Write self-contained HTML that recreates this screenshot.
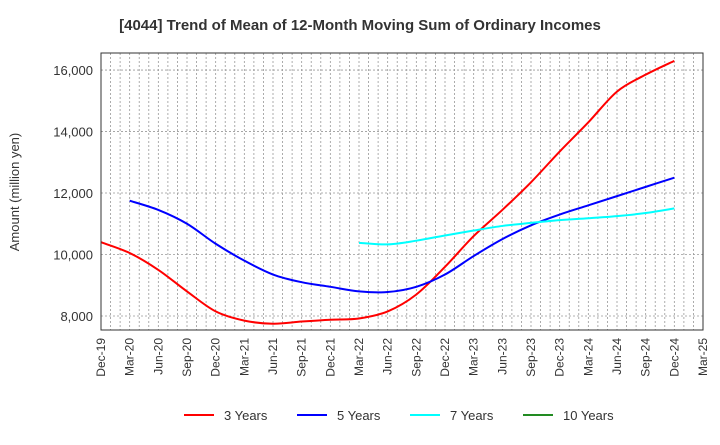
<!DOCTYPE html>
<html><head><meta charset="utf-8"><style>
body{margin:0;background:#fff;font-family:"Liberation Sans",sans-serif;}
svg text{font-family:"Liberation Sans",sans-serif;}
</style></head><body>
<svg id="chart" width="720" height="440" viewBox="0 0 720 440">
<text x="360" y="30" text-anchor="middle" font-size="15" font-weight="bold" fill="#333">[4044]  Trend of Mean of 12-Month Moving Sum of Ordinary Incomes</text>
<g id="grid"></g>
<g id="series"></g>
<rect x="101" y="53" width="602" height="277" fill="none" stroke="#333" stroke-width="1"/>
<g id="axes"></g>
<text transform="translate(19,192) rotate(-90)" text-anchor="middle" font-size="13" fill="#333">Amount (million yen)</text>
<g id="legend"></g>
</svg>
<script>
const xLabels=["Dec-19","Mar-20","Jun-20","Sep-20","Dec-20","Mar-21","Jun-21","Sep-21","Dec-21","Mar-22","Jun-22","Sep-22","Dec-22","Mar-23","Jun-23","Sep-23","Dec-23","Mar-24","Jun-24","Sep-24","Dec-24","Mar-25"];
const yTicks=[8000,10000,12000,14000,16000];
const s3=[10400,10050,9500,8800,8150,7850,7750,7820,7880,7920,8150,8700,9600,10600,11450,12350,13350,14300,15300,15850,16300];
const s5=[null,11750,11450,11000,10350,9800,9350,9100,8950,8800,8780,8950,9350,9950,10500,10950,11300,11600,11900,12200,12500];
const s7=[null,null,null,null,null,null,null,null,null,10380,10330,10450,10620,10780,10930,11030,11120,11180,11250,11350,11500];
const s10=[];
const NS="http://www.w3.org/2000/svg";
const L=101,R=703,T=53,B=330,YMIN=7545,YMAX=16555;
const xq=i=>L+i*(R-L)/21;
const y=v=>B-(v-YMIN)/(YMAX-YMIN)*(B-T);
function mk(tag,attrs,parent){const e=document.createElementNS(NS,tag);for(const k in attrs)e.setAttribute(k,attrs[k]);parent.appendChild(e);return e;}
const grid=document.getElementById('grid'),axes=document.getElementById('axes'),ser=document.getElementById('series'),leg=document.getElementById('legend');
for(let m=1;m<63;m++){const x=L+m*(R-L)/63;const g=mk('line',{x1:x,x2:x,y1:T,y2:B,stroke:'#999','stroke-dasharray':'2,2','stroke-width':0.8},grid);

}
yTicks.forEach(v=>{const g=mk('line',{x1:L,x2:R,y1:y(v),y2:y(v),stroke:'#999','stroke-dasharray':'2,2','stroke-width':0.8},grid);


const t=mk('text',{x:L-8,y:y(v)+5,'text-anchor':'end','font-size':13,fill:'#333'},axes);t.textContent=v.toLocaleString('en-US');

});
xLabels.forEach((lab,i)=>{const x=xq(i);const t=mk('text',{transform:`translate(${x+4},${B+8}) rotate(-90)`,'text-anchor':'end','font-size':12,fill:'#333'},axes);t.textContent=lab;

});
function path(arr){const pts=[];arr.forEach((v,i)=>{if(v!=null)pts.push([xq(i),y(v)]);});if(pts.length<2)return'';
let d=`M${pts[0][0]},${pts[0][1]}`;for(let i=0;i<pts.length-1;i++){const p0=pts[i-1]||pts[i],p1=pts[i],p2=pts[i+1],p3=pts[i+2]||p2;
d+=` C${p1[0]+(p2[0]-p0[0])/6},${p1[1]+(p2[1]-p0[1])/6} ${p2[0]-(p3[0]-p1[0])/6},${p2[1]-(p3[1]-p1[1])/6} ${p2[0]},${p2[1]}`;}return d;}
const defs=[[s3,'#ff0000','3 Years','series-3-years'],[s5,'#0000ff','5 Years','series-5-years'],[s7,'#00ffff','7 Years','series-7-years'],[s10,'#228b22','10 Years','series-10-years']];
defs.forEach(([arr,c,lab,n],k)=>{const d=path(arr);if(d){const p=mk('path',{d:d,fill:'none',stroke:c,'stroke-width':2},ser);

}
const lx=184+k*113;const ln=mk('line',{x1:lx,x2:lx+30,y1:415,y2:415,stroke:c,'stroke-width':2},leg);


const t=mk('text',{x:lx+40,y:420,'font-size':13,fill:'#333'},leg);t.textContent=lab;

});
</script>
</body></html>
